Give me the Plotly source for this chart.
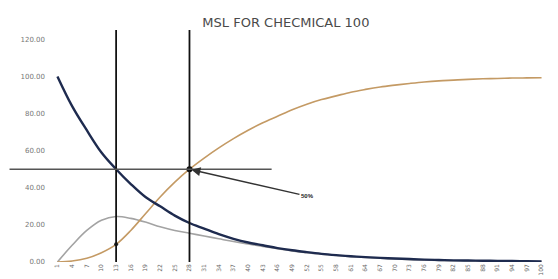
import plotly.graph_objects as go

# ---- data ----
days = [1, 4, 7, 10, 13, 16, 19, 22, 25, 28, 31, 34, 37, 40, 43, 46, 49, 52, 55,
        58, 61, 64, 67, 70, 73, 76, 79, 82, 85, 88, 91, 94, 97, 100]

remaining = [100, 84, 71, 59, 50, 42, 35, 30, 25, 21, 18, 15, 12.5, 10.5, 9, 7.5,
             6.3, 5.3, 4.4, 3.7, 3.1, 2.6, 2.2, 1.9, 1.6, 1.3, 1.1, 0.9, 0.8, 0.7,
             0.6, 0.5, 0.4, 0.3]

cumulative = [0, 0.5, 2, 5, 9.5, 17, 26, 35, 43, 50, 56, 61.5, 66.5, 71, 75, 78.5,
              82, 85, 87.5, 89.5, 91.5, 93, 94.3, 95.3, 96.2, 97, 97.6, 98, 98.4,
              98.7, 98.9, 99.1, 99.2, 99.3]

intermediate = [0, 9, 17, 22.5, 24.5, 23.5, 21.5, 19, 17, 15.5, 14, 12.5, 11, 9.7,
                8.4, 7.2, 6, 5, 4.2, 3.5, 2.9, 2.4, 2, 1.6, 1.3, 1.05, 0.85, 0.7,
                0.55, 0.45, 0.38, 0.3, 0.25, 0.2]

y_ticks = [0, 20, 40, 60, 80, 100, 120]
y_tick_labels = ["0.00", "20.00", "40.00", "60.00", "80.00", "100.00", "120.00"]

msl_level = 50
marker_days = [13, 28]
hline_end_day = 44.8
title_text = "MSL FOR CHECMICAL 100"
arrow_label = "50%"

x_range = [0.5, 100.5]
y_range = [0, 125]

fig = go.Figure()

fig.add_trace(go.Scatter(x=days, y=intermediate, mode="lines", line_shape="spline",
                         line=dict(color="#a3a3a3", width=1.6), showlegend=False))
fig.add_trace(go.Scatter(x=days, y=cumulative, mode="lines", line_shape="spline",
                         line=dict(color="#c49a64", width=1.6), showlegend=False))
fig.add_trace(go.Scatter(x=days, y=remaining, mode="lines", line_shape="spline",
                         line=dict(color="#1e2b4f", width=2.4), showlegend=False))

# vertical marker lines
for d in marker_days:
    fig.add_shape(type="line", xref="x", yref="y", x0=d, x1=d, y0=0, y1=y_range[1],
                  line=dict(color="#111111", width=1.8))

# horizontal MSL line (extends left beyond the plot area)
span = x_range[1] - x_range[0]
fig.add_shape(type="line", xref="paper", yref="y",
              x0=-0.093, x1=(hline_end_day - x_range[0]) / span,
              y0=msl_level, y1=msl_level,
              line=dict(color="#555555", width=1.5))

# intersection dots
fig.add_trace(go.Scatter(x=[marker_days[1]], y=[msl_level], mode="markers",
                         marker=dict(color="#111111", size=6), showlegend=False))
fig.add_trace(go.Scatter(x=[marker_days[0]], y=[cumulative[days.index(marker_days[0])]],
                         mode="markers", marker=dict(color="#222222", size=4),
                         showlegend=False))

fig.add_annotation(x=marker_days[1], y=msl_level, xref="x", yref="y",
                   text="<b>" + arrow_label + "</b>", showarrow=True,
                   ax=118, ay=27, arrowhead=2, arrowsize=1.2, arrowwidth=1.5,
                   arrowcolor="#333333", standoff=2,
                   font=dict(family="Arial", size=6, color="#222222"))

fig.update_layout(
    width=558, height=279,
    margin=dict(l=47, r=22, t=22, b=25),
    paper_bgcolor="white", plot_bgcolor="white",
    title=dict(text=title_text, x=0.498, xref="container", xanchor="center",
               y=1 - 14 / 279, yref="container", yanchor="middle",
               font=dict(family="DejaVu Sans", size=13, color="#4a4a4a")),
    xaxis=dict(range=x_range, tickmode="array", tickvals=days,
               ticktext=[str(d) for d in days], tickangle=-90,
               tickfont=dict(family="DejaVu Sans", size=6, color="#666666"),
               showgrid=False, zeroline=False, showline=False, ticks="",
               automargin=False),
    yaxis=dict(range=y_range, tickmode="array", tickvals=y_ticks,
               ticktext=y_tick_labels,
               tickfont=dict(family="DejaVu Sans", size=7, color="#777777"),
               showgrid=False, zeroline=False, showline=False, ticks="",
               ticklabelstandoff=9, automargin=False),
)

fig.write_html("out.html")
